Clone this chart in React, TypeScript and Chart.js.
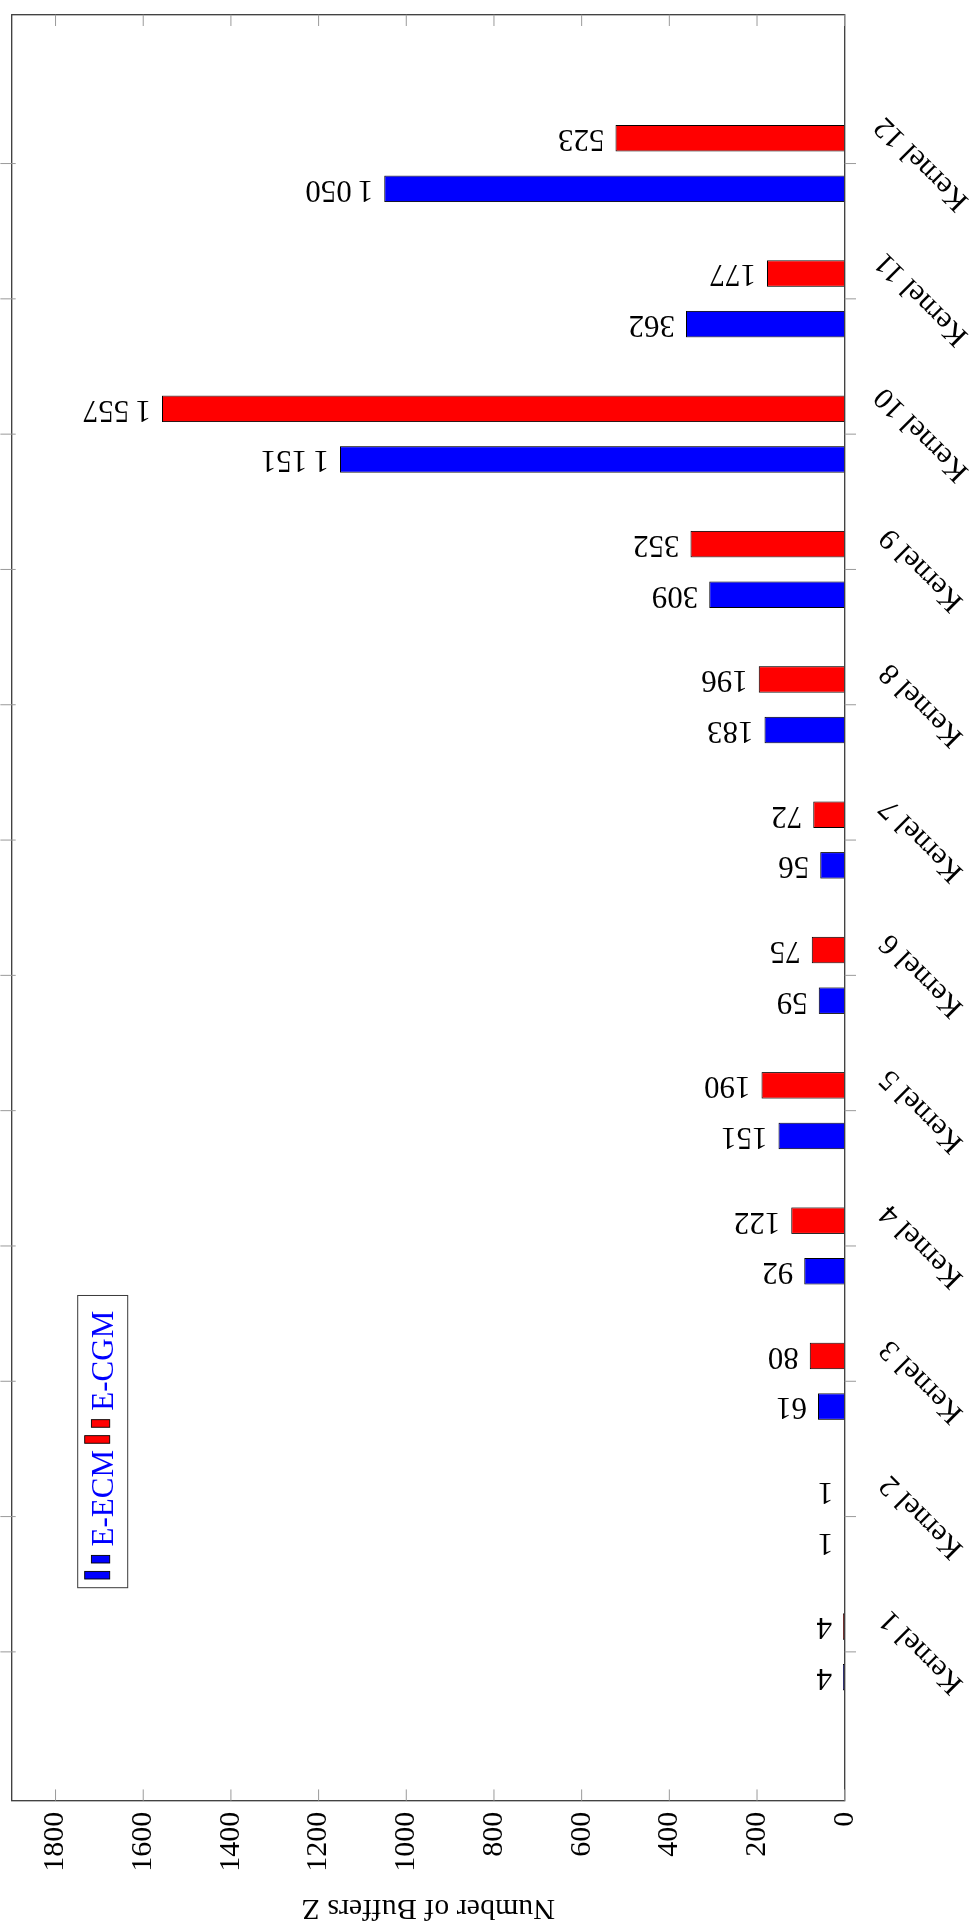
import React, { useEffect, useRef } from 'react';
import { Chart, registerables } from 'chart.js';

Chart.register(...registerables);

// ---- data ----
const kernelLabels = ['Kernel 1', 'Kernel 2', 'Kernel 3', 'Kernel 4', 'Kernel 5', 'Kernel 6', 'Kernel 7', 'Kernel 8', 'Kernel 9', 'Kernel 10', 'Kernel 11', 'Kernel 12'];
const eEcmValues = [4, 1, 61, 92, 151, 59, 56, 183, 309, 1151, 362, 1050];
const eCgmValues = [4, 1, 80, 122, 190, 75, 72, 196, 352, 1557, 177, 523];
const seriesNames = ['E-ECM', 'E-CGM'];
const seriesColors = ['#0000ff', '#ff0000'];
const valueTicks = [0, 200, 400, 600, 800, 1000, 1200, 1400, 1600, 1800];
const valueMin = 0;
const valueMax = 1900;
const axisTitle = 'Number of Buffers Z';

// canvas is drawn as an upright chart, then turned a quarter turn to the left
const W = 1926;
const H = 979;
const FONT = "'Liberation Serif', 'Times New Roman', serif";

function fmt(v: number): string {
  if (v >= 1000) {
    const r = v % 1000;
    return Math.floor(v / 1000) + '\u2009' + String(r).padStart(3, '0');
  }
  return String(v);
}

const decor = {
  id: 'decor',
  afterDatasetsDraw(chart: any) {
    const { ctx, chartArea: a, scales } = chart;
    const xs = scales.x;
    const ys = scales.y;
    ctx.save();

    // value labels above bars (rotated)
    ctx.font = `31px ${FONT}`;
    ctx.fillStyle = '#000';
    ctx.textAlign = 'left';
    ctx.textBaseline = 'middle';
    chart.data.datasets.forEach((ds: any, di: number) => {
      const meta = chart.getDatasetMeta(di);
      meta.data.forEach((el: any, i: number) => {
        const v = ds.data[i].y;
        ctx.save();
        ctx.translate(el.x, el.y - 11);
        ctx.rotate(-Math.PI / 2);
        ctx.fillText(fmt(v), 0, 0);
        ctx.restore();
      });
    });

    // frame
    ctx.strokeStyle = '#3a3a3a';
    ctx.lineWidth = 1.3;
    ctx.strokeRect(a.left, a.top, a.right - a.left, a.bottom - a.top);

    // value ticks (inside, both sides)
    ctx.strokeStyle = '#9a9a9a';
    ctx.lineWidth = 1;
    const tl = 11.3;
    valueTicks.forEach((v) => {
      const y = ys.getPixelForValue(v);
      ctx.beginPath();
      ctx.moveTo(a.left, y);
      ctx.lineTo(a.left + tl, y);
      ctx.moveTo(a.right, y);
      ctx.lineTo(a.right - tl, y);
      ctx.stroke();
    });
    // category ticks (outside)
    kernelLabels.forEach((_, i) => {
      const x = xs.getPixelForValue(i);
      ctx.beginPath();
      ctx.moveTo(x, a.bottom);
      ctx.lineTo(x, a.bottom + tl);
      ctx.moveTo(x, a.top + 4);
      ctx.lineTo(x, a.top - tl);
      ctx.stroke();
    });

    // kernel labels
    ctx.font = `30px ${FONT}`;
    ctx.fillStyle = '#000';
    ctx.textAlign = 'center';
    ctx.textBaseline = 'middle';
    kernelLabels.forEach((lab, i) => {
      const x = xs.getPixelForValue(i);
      ctx.save();
      ctx.translate(x, a.bottom + 77);
      ctx.rotate(-Math.PI / 4);
      ctx.fillText(lab, 0, 0);
      ctx.restore();
    });

    // legend
    ctx.font = `31px ${FONT}`;
    const lx = a.left + 213;
    const ly = a.top + 66;
    const iconToText = 32.6;
    const itemGap = 6.7;
    let cx = lx + 8.7;
    const items: { ix: number; tx: number }[] = [];
    seriesNames.forEach((name) => {
      const tw = ctx.measureText(name).width;
      items.push({ ix: cx, tx: cx + iconToText });
      cx = cx + iconToText + tw + itemGap;
    });
    const boxW = cx - itemGap + 15.3 - lx;
    const boxH = 50;
    ctx.fillStyle = '#fff';
    ctx.fillRect(lx, ly, boxW, boxH);
    ctx.strokeStyle = '#3a3a3a';
    ctx.lineWidth = 1;
    ctx.strokeRect(lx, ly, boxW, boxH);
    const base = ly + 32;
    items.forEach((it, s) => {
      ctx.fillStyle = seriesColors[s];
      ctx.strokeStyle = '#000';
      ctx.lineWidth = 0.9;
      ctx.fillRect(it.ix, base - 25, 7.6, 25);
      ctx.strokeRect(it.ix, base - 25, 7.6, 25);
      ctx.fillRect(it.ix + 16, base - 18.3, 7.6, 18.3);
      ctx.strokeRect(it.ix + 16, base - 18.3, 7.6, 18.3);
      ctx.fillStyle = '#0000ff';
      ctx.textAlign = 'left';
      ctx.textBaseline = 'alphabetic';
      ctx.fillText(seriesNames[s], it.tx, ly + 35.3);
    });

    ctx.restore();
  },
};

export default function App() {
  const ref = useRef<HTMLCanvasElement>(null);

  useEffect(() => {
    if (!ref.current) return;
    Chart.defaults.font.family = FONT;
    const chart = new Chart(ref.current, {
      type: 'bar',
      data: {
        datasets: [
          {
            label: seriesNames[0],
            data: eEcmValues.map((v, i) => ({ x: i, y: v })),
            backgroundColor: seriesColors[0],
            borderColor: '#000',
            borderWidth: 1,
            categoryPercentage: 0.748,
            barPercentage: 0.524,
          },
          {
            label: seriesNames[1],
            data: eCgmValues.map((v, i) => ({ x: i, y: v })),
            backgroundColor: seriesColors[1],
            borderColor: '#000',
            borderWidth: 1,
            categoryPercentage: 0.748,
            barPercentage: 0.524,
          },
        ],
      } as any,
      options: {
        responsive: false,
        animation: false,
        devicePixelRatio: 1,
        layout: { padding: { top: 11.7, right: 14.7, bottom: 134.3, left: 0 } },
        plugins: { legend: { display: false }, tooltip: { enabled: false } },
        scales: {
          x: {
            type: 'linear',
            min: -1.1,
            max: 12.1,
            offset: false,
            grid: { offset: false },
            display: false,
            afterFit: (s: any) => {
              s.paddingLeft = 0;
              s.paddingRight = 0;
            },
          },
          y: {
            type: 'linear',
            position: 'left',
            min: valueMin,
            max: valueMax,
            afterFit: (s: any) => {
              s.width = 125.3;
              s.paddingTop = 0;
              s.paddingBottom = 0;
            },
            afterBuildTicks: (s: any) => {
              s.ticks = valueTicks.map((v) => ({ value: v }));
            },
            grid: { display: false, drawTicks: false },
            border: { display: false },
            ticks: {
              padding: 11,
              color: '#000',
              font: { size: 30, family: FONT },
              callback: (v: any) => String(v),
            },
            title: {
              display: true,
              text: axisTitle,
              color: '#000',
              font: { size: 30, family: FONT },
              padding: 0,
            },
          },
        },
      } as any,
      plugins: [decor],
    });
    return () => chart.destroy();
  }, []);

  return (
    <div style={{ position: 'absolute', left: 0, top: 0, width: 979, height: 1926, overflow: 'hidden', background: '#fff' }}>
      <canvas
        ref={ref}
        width={W}
        height={H}
        style={{
          position: 'absolute',
          left: 0,
          top: 0,
          width: W,
          height: H,
          transformOrigin: '0 0',
          transform: `translateY(${W}px) rotate(-90deg)`,
        }}
      />
    </div>
  );
}
